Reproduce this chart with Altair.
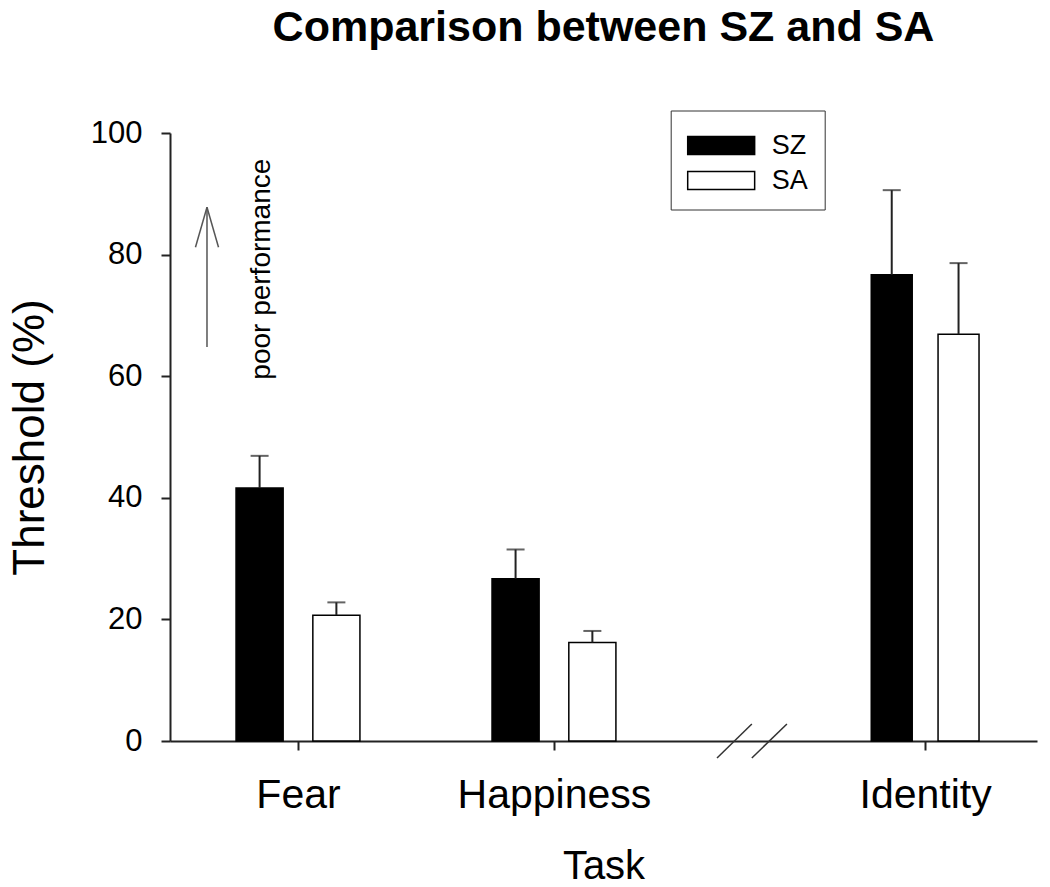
import altair as alt
import pandas as pd

# ---- data ----
tasks = ["Fear", "Happiness", "Identity"]
task_positions = [1.0, 2.0, 3.45]        # positions along the broken task axis
segment_scale = [1.0, 1.0, 0.87]         # Identity segment drawn on compressed scale
groups = ["SZ", "SA"]
sz_means = [41.6, 26.7, 76.7]
sz_errors = [5.3, 4.8, 13.9]
sa_means = [20.7, 16.2, 66.9]
sa_errors = [2.1, 1.9, 11.7]
y_ticks = [0, 20, 40, 60, 80, 100]

# axis-break marks ("//") on the task axis
break_x_start = [2.637, 2.773]
break_x_end = [2.773, 2.910]
break_y_low = [-2.8, -2.8]
break_y_high = [2.8, 2.8]

# "poor performance" arrow annotation
arrow_x = 0.6445
arrow_y_from = 64.8
arrow_y_to = 87.8
arrow_head_dx = 0.045
arrow_head_y = 81.2
note_text = "poor performance"
note_x = 0.858
note_y = 77.6

FONT = "Liberation Sans"
group_offset = {"SZ": -0.15, "SA": 0.15}
bar_half = 0.092

rows = []
for i, t in enumerate(tasks):
    for g, means, errs in (("SZ", sz_means, sz_errors), ("SA", sa_means, sa_errors)):
        c = task_positions[i] + group_offset[g] * segment_scale[i]
        hw = bar_half * segment_scale[i]
        rows.append({"task": t, "group": g, "mean": means[i], "err": errs[i],
                     "center": c, "left": c - hw, "right": c + hw,
                     "upper": means[i] + errs[i]})
df = pd.DataFrame(rows)

label_expr = " : ".join(
    f"datum.value == {p} ? '{t}'" for p, t in zip(task_positions[:-1], tasks[:-1])
) + f" : '{tasks[-1]}'"

xscale = alt.Scale(domain=[0.5, 3.887], nice=False, zero=False)
yscale = alt.Scale(domain=[0, 100], nice=False)

x_axis = alt.Axis(values=task_positions, labelExpr=label_expr, title="Task",
                  labelFontSize=41, titleFontSize=40, labelPadding=25,
                  titlePadding=31, titleFontWeight="normal", labelLimit=500)
y_axis = alt.Axis(values=y_ticks, title="Threshold (%)", labelFontSize=31,
                  titleFontSize=44, labelPadding=19, titlePadding=38,
                  titleFontWeight="normal")

base = alt.Chart(df)

# legend swatch: 67 x 18 px rectangle drawn by a custom symbol path (r = sqrt(size)/2 = 18)
bars = base.mark_rect(stroke="black", strokeWidth=1.5).encode(
    x=alt.X("left:Q", scale=xscale, axis=x_axis),
    x2="right:Q",
    y=alt.Y("mean:Q", scale=yscale, axis=y_axis),
    y2=alt.datum(0),
    fill=alt.Fill("group:N", scale=alt.Scale(domain=groups, range=["black", "white"]),
                  legend=alt.Legend(orient="none", legendX=500.7, legendY=-22.5,
                                    title=None, symbolType="M-1,-0.5H2.72V0.5H-1Z",
                                    symbolSize=1296, symbolStrokeColor="black",
                                    symbolStrokeWidth=1.5, labelFontSize=27,
                                    labelFont=FONT, labelColor="black",
                                    labelOffset=47, strokeColor="#333",
                                    padding=16, rowPadding=3)),
)

err_rules = base.mark_rule(color="#222", strokeWidth=2).encode(
    x="center:Q", y="mean:Q", y2="upper:Q")
err_caps = base.mark_tick(orient="horizontal", size=18, thickness=2, color="#222").encode(
    x="center:Q", y="upper:Q")

brk = pd.DataFrame({"x": break_x_start, "x2": break_x_end,
                    "y": break_y_low, "y2": break_y_high})
breaks = alt.Chart(brk).mark_rule(color="#333", strokeWidth=1.5).encode(
    x="x:Q", x2="x2:Q", y="y:Q", y2="y2:Q")

arr = pd.DataFrame({
    "x": [arrow_x, arrow_x, arrow_x],
    "y": [arrow_y_from, arrow_y_to, arrow_y_to],
    "x2": [arrow_x, arrow_x - arrow_head_dx, arrow_x + arrow_head_dx],
    "y2": [arrow_y_to, arrow_head_y, arrow_head_y],
})
arrow = alt.Chart(arr).mark_rule(color="#555", strokeWidth=1.5).encode(
    x="x:Q", x2="x2:Q", y="y:Q", y2="y2:Q")

note = alt.Chart(pd.DataFrame({"x": [note_x], "y": [note_y], "t": [note_text]})).mark_text(
    angle=270, fontSize=28, font=FONT, color="black", align="center", baseline="middle"
).encode(x="x:Q", y="y:Q", text="t:N")

chart = alt.layer(bars, err_rules, err_caps, breaks, arrow, note).properties(
    width=867, height=608,
    autosize=alt.AutoSizeParams(type="none"),
    padding={"left": 162, "top": 125, "right": 5, "bottom": 145},
    title=alt.TitleParams("Comparison between SZ and SA", fontSize=43,
                          fontWeight="bold", font=FONT, anchor="middle",
                          frame="group", offset=60, color="black"),
).configure_view(stroke=None).configure_axis(
    domainColor="#222", domainWidth=2, tickColor="#222", tickWidth=2, tickSize=9,
    grid=False, labelFont=FONT, titleFont=FONT, labelColor="black", titleColor="black",
)

chart.save("out.html", embed_options={"renderer": "svg", "actions": False})
